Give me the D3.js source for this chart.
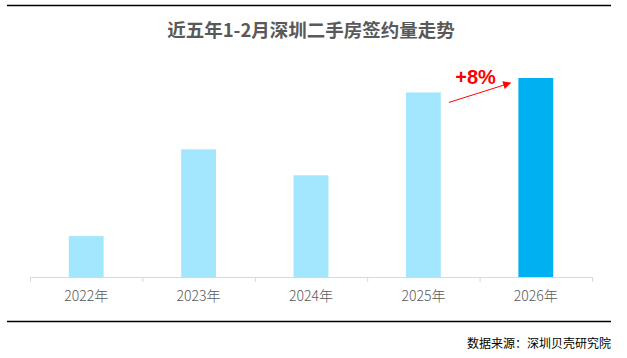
<!DOCTYPE html>
<html><head><meta charset="utf-8">
<script src="https://cdn.jsdelivr.net/npm/d3@7/dist/d3.min.js"></script>
<style>body{margin:0;background:#fff}svg{display:block}</style>
</head><body>
<svg id="c" width="627" height="358"></svg>
<script>
const categories = ["2022年","2023年","2024年","2025年","2026年"];
const values = [4100, 12800, 10200, 18500, 19950];
const growthLabel = "+8%";
const title = "近五年1-2月深圳二手房签约量走势";
const source = "数据来源：深圳贝壳研究院";

const svg = d3.select("#c");
const W = 627, H = 358;
const cjk = "'Noto Sans CJK SC','Noto Sans',sans-serif";

// frame lines
svg.append("line").attr("x1",7).attr("x2",611).attr("y1",5.5).attr("y2",5.5).attr("stroke","#000").attr("stroke-width",1.5);
svg.append("line").attr("x1",7).attr("x2",611).attr("y1",321.5).attr("y2",321.5).attr("stroke","#000").attr("stroke-width",1.5);

svg.append("text").attr("x",311).attr("y",37).attr("text-anchor","middle")
  .attr("font-family",cjk).attr("font-weight","bold").attr("font-size",18.5).attr("fill","#595959").text(title);

svg.append("text").attr("x",611).attr("y",348).attr("text-anchor","end")
  .attr("font-family",cjk).attr("font-size",12).attr("fill","#000").text(source);

const x = d3.scaleBand().domain(categories).range([30,592]).paddingInner(0).paddingOuter(0);
const y = d3.scaleLinear().domain([0, 19950]).range([277, 78]);

const barW = x.bandwidth()*0.31;
svg.append("g").selectAll("rect").data(values).join("rect")
  .attr("x",(d,i)=>x(categories[i]) + x.bandwidth()/2 - barW/2)
  .attr("width",barW)
  .attr("y",d=>y(d))
  .attr("height",d=>y(0)-y(d))
  .attr("fill",(d,i)=> i===values.length-1 ? "#00B0F0" : "#A3E7FF");

const axis = svg.append("g").attr("transform","translate(0,277)")
  .call(d3.axisBottom(x).tickSize(0).tickPadding(0));
axis.select(".domain").attr("stroke","#d9d9d9");
axis.selectAll(".tick line").remove();
axis.selectAll(".tick text").attr("y",24).attr("dy",0)
  .attr("font-family",cjk).attr("font-size",14).attr("font-weight",300).attr("fill","#595959");
// boundary ticks
const bounds = categories.map(c=>x(c)).concat([x.range()[1]]);
axis.selectAll(".bt").data(bounds).join("line").attr("class","bt")
  .attr("x1",d=>d+0.5).attr("x2",d=>d+0.5).attr("y1",0).attr("y2",5).attr("stroke","#d9d9d9");

// growth arrow
const i4 = values.length-2, i5 = values.length-1;
const x1 = x(categories[i4]) + x.bandwidth()/2 + barW/2 + 8;
const y1 = y(values[i4]) + 10;
const x2 = x(categories[i5]) + x.bandwidth()/2 - barW/2 - 8;
const y2 = y(values[i5]) + 5;
svg.append("defs").append("marker").attr("id","ah").attr("viewBox","0 0 10 10")
  .attr("refX",9).attr("refY",5).attr("markerWidth",10).attr("markerHeight",8)
  .attr("markerUnits","userSpaceOnUse").attr("orient","auto")
  .append("path").attr("d","M0,0L10,5L0,10z").attr("fill","#FF0000");
svg.append("line").attr("x1",x1).attr("y1",y1).attr("x2",x2).attr("y2",y2)
  .attr("stroke","#FF0000").attr("stroke-width",1).attr("marker-end","url(#ah)");
svg.append("text").attr("x",(x1+x2)/2 - 4).attr("y",84).attr("text-anchor","middle")
  .attr("font-family","'Liberation Sans',Arial,sans-serif").attr("font-weight","bold")
  .attr("font-size",20).attr("fill","#FF0000").text(growthLabel);
</script>
</body></html>
